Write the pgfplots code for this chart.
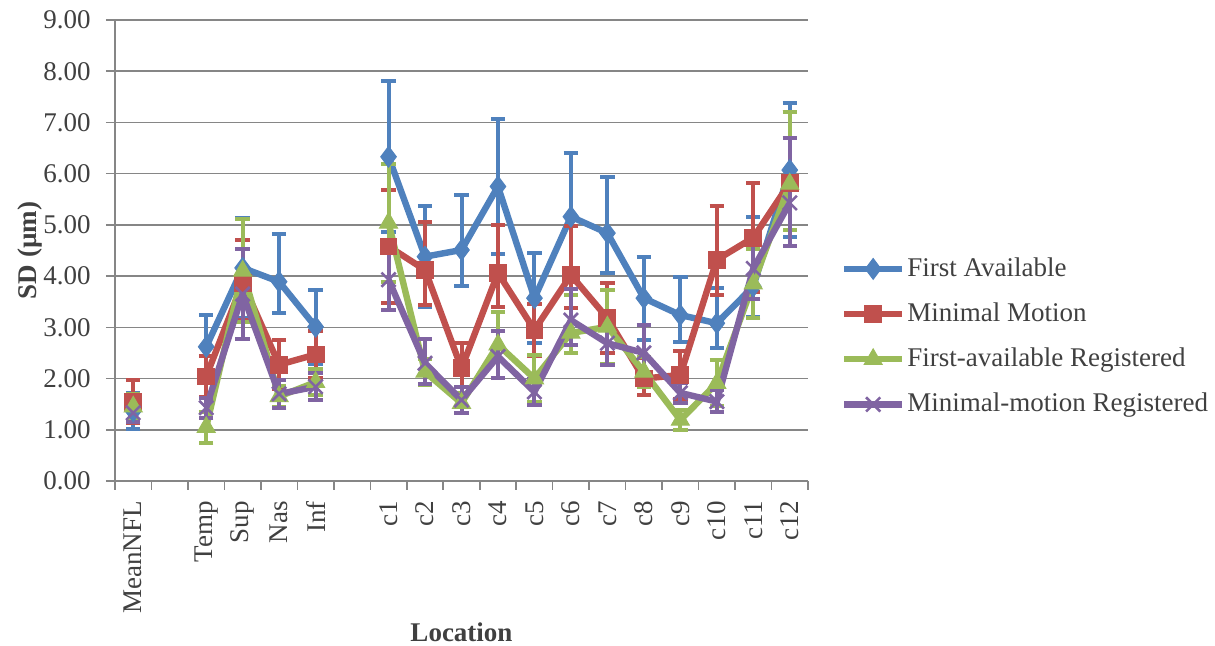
\documentclass[border=0pt]{standalone}
\usepackage{pgfplots}
\pgfplotsset{compat=1.18}
\usepackage{pgfplotstable}
\usepackage{fontspec}
\setmainfont{Liberation Serif}
\definecolor{cblue}{HTML}{4F81BD}
\definecolor{cred}{HTML}{C0504D}
\definecolor{cgreen}{HTML}{9BBB59}
\definecolor{cpurple}{HTML}{8064A2}
\definecolor{axgray}{HTML}{868686}
\definecolor{txtgray}{HTML}{404040}

% x y ep em
\pgfplotstableread{
x y ep em
0 1.36 0.35 0.35
1 nan 0 0
2 2.62 0.62 0.62
3 4.16 0.97 0.97
4 3.89 0.94 0.61
5 3.01 0.72 0.72
6 nan 0 0
7 6.33 1.47 1.47
8 4.38 0.98 0.98
9 4.51 1.08 0.71
10 5.75 1.32 1.32
11 3.57 0.88 0.88
12 5.16 1.24 1.24
13 4.84 1.10 0.78
14 3.57 0.81 0.81
15 3.24 0.75 0.52
16 3.08 0.69 0.48
17 3.80 1.36 0.60
18 6.07 1.31 1.31
}\tblA
\pgfplotstableread{
x y ep em
0 1.55 0.42 0.42
1 nan 0 0
2 2.04 0.40 0.40
3 3.87 0.83 0.73
4 2.27 0.48 0.48
5 2.47 0.45 0.45
6 nan 0 0
7 4.58 1.10 1.10
8 4.12 0.94 0.68
9 2.20 0.50 0.50
10 4.06 0.94 0.66
11 2.95 0.50 0.50
12 4.02 0.95 0.64
13 3.18 0.69 0.69
14 2.00 0.40 0.32
15 2.07 0.46 0.46
16 4.32 1.04 0.69
17 4.75 1.07 1.07
18 5.82 1.38 0.92
}\tblB
\pgfplotstableread{
x y ep em
0 1.45 0.25 0.25
1 nan 0 0
2 1.05 0.30 0.30
3 4.10 1.02 1.00
4 1.65 0.20 0.20
5 1.93 0.25 0.25
6 nan 0 0
7 5.04 1.15 1.15
8 2.13 0.25 0.25
9 1.52 0.20 0.20
10 2.66 0.64 0.64
11 2.00 0.46 0.46
12 2.89 0.75 0.40
13 3.01 0.72 0.72
14 2.13 0.30 0.30
15 1.19 0.20 0.20
16 1.91 0.45 0.45
17 3.85 0.67 0.67
18 5.80 1.40 0.90
}\tblC
\pgfplotstableread{
x y ep em
0 1.33 0.17 0.17
1 nan 0 0
2 1.43 0.20 0.20
3 3.65 0.88 0.88
4 1.70 0.27 0.27
5 1.84 0.26 0.26
6 nan 0 0
7 3.93 0.60 0.60
8 2.30 0.47 0.40
9 1.58 0.25 0.25
10 2.43 0.50 0.42
11 1.74 0.26 0.26
12 3.14 0.60 0.48
13 2.69 0.42 0.42
14 2.50 0.55 0.55
15 1.72 0.20 0.20
16 1.55 0.22 0.20
17 4.15 0.60 0.60
18 5.43 1.27 0.85
}\tblD

\begin{document}
\fontsize{13.5}{15}\selectfont
\begin{tikzpicture}
\useasboundingbox (0,0) rectangle (607.5pt,323pt);
\begin{axis}[
  at={(57.5pt,82.5pt)}, anchor=south west,
  scale only axis, width=346.5pt, height=230.5pt,
  xmin=-0.5, xmax=18.5, ymin=0, ymax=9,
  axis lines*=left,
  axis line style={axgray, line width=0.8pt},
  ymajorgrids, grid style={axgray, line width=0.8pt},
  ytick={0,1,...,9},
  xtick={0,2,3,4,5,7,8,9,10,11,12,13,14,15,16,17,18},
  xticklabels={MeanNFL,Temp,Sup,Nas,Inf,c1,c2,c3,c4,c5,c6,c7,c8,c9,c10,c11,c12},
  minor xtick={-0.5,0.5,...,18.5},
  major x tick style={draw=none},
  minor x tick style={axgray, line width=0.8pt},
  major y tick style={axgray, line width=0.8pt},
  tick align=outside,
  major tick length=4.5pt, minor tick length=4.5pt,
  tick label style={font=\fontsize{13.5}{15}\selectfont, text=txtgray},
  xticklabel style={rotate=90, anchor=east, inner sep=0pt},
  xticklabel shift=5.5pt,
  yticklabel shift=3pt,
  yticklabel style={/pgf/number format/.cd, fixed, fixed zerofill, precision=2, assume math mode=true},
  unbounded coords=jump,
  xlabel={\textbf{Location}},
  ylabel={\textbf{SD (µm)}},
  label style={font=\fontsize{13.5}{15}\selectfont, text=txtgray},
  xlabel style={at={(axis description cs:0.5,-0.3275)}, anchor=center},
  ylabel style={at={(axis description cs:-0.1227,0.5)}, anchor=center, rotate=0},
  legend style={draw=none, fill=none, at={(1.047,0.49)}, anchor=north west,
     font=\fontsize{13.5}{15}\selectfont, text=txtgray, row sep=9.2pt,
     inner sep=0pt, nodes={inner sep=1pt}},
  legend cell align=left,
  legend image code/.code={\draw[mark repeat=2,mark phase=2] plot coordinates {(0pt,0pt)(14.5pt,0pt)(29pt,0pt)};},
  error bars/y dir=both, error bars/y explicit,
  error bars/error bar style={line width=2pt},
  error bars/error mark options={mark size=3.6pt, line width=2pt, rotate=90},
]
\addplot[cblue, line width=3.2pt, mark=diamond*, mark size=5.2pt, mark options={line width=0.5pt}]
  table[x=x, y=y, y error plus=ep, y error minus=em] {\tblA};
\addlegendentry{First Available}
\addplot[cred, line width=3.2pt, mark=square*, mark size=4.2pt, mark options={line width=0.5pt}]
  table[x=x, y=y, y error plus=ep, y error minus=em] {\tblB};
\addlegendentry{Minimal Motion}
\addplot[cgreen, line width=3.2pt, mark=triangle*, mark size=5.2pt, mark options={line width=0.5pt}]
  table[x=x, y=y, y error plus=ep, y error minus=em] {\tblC};
\addlegendentry{First-available Registered}
\addplot[cpurple, line width=3.2pt, mark=x, mark size=5pt, mark options={line width=1.3pt}]
  table[x=x, y=y, y error plus=ep, y error minus=em] {\tblD};
\addlegendentry{Minimal-motion Registered}
\end{axis}
\end{tikzpicture}
\end{document}
